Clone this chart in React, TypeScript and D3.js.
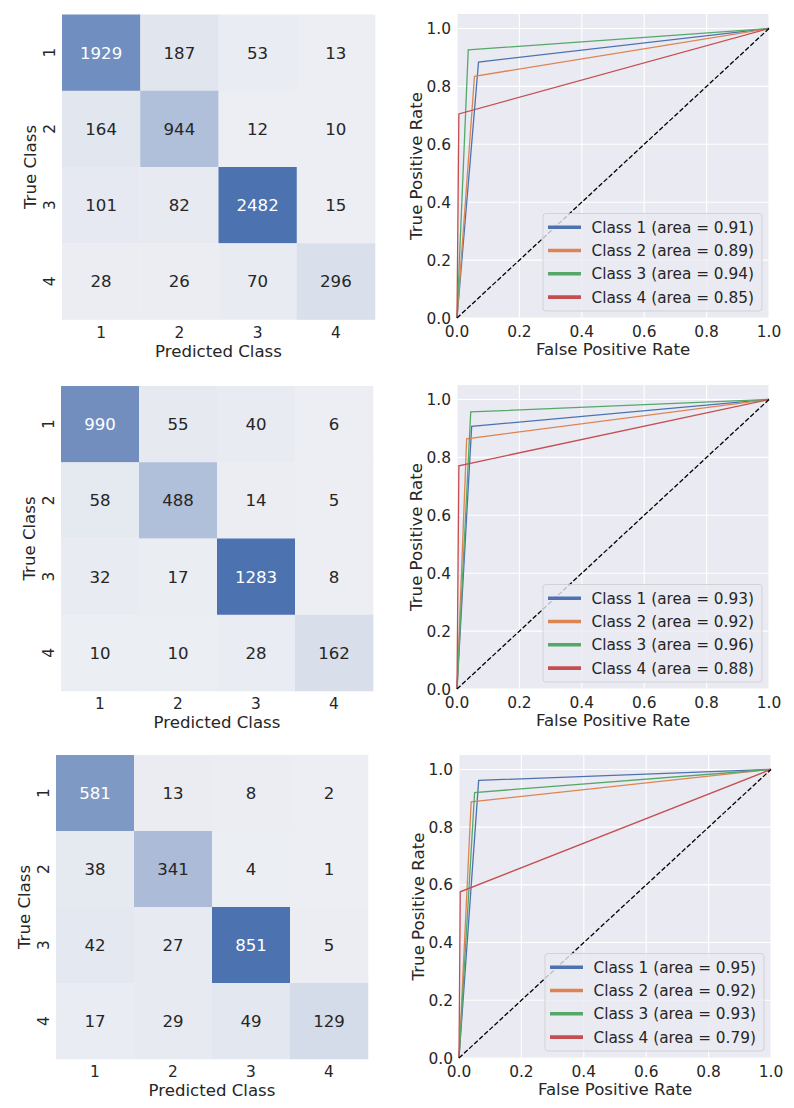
import React from "react";
import * as d3 from "d3";

// ---------- data ----------
const classLabels = ["1", "2", "3", "4"];

const cm1 = [
  [1929, 187, 53, 13],
  [164, 944, 12, 10],
  [101, 82, 2482, 15],
  [28, 26, 70, 296],
];
const cm2 = [
  [990, 55, 40, 6],
  [58, 488, 14, 5],
  [32, 17, 1283, 8],
  [10, 10, 28, 162],
];
const cm3 = [
  [581, 13, 8, 2],
  [38, 341, 4, 1],
  [42, 27, 851, 5],
  [17, 29, 49, 129],
];

// ROC operating points (single threshold per class) + AUC
const roc1Fpr = [0.069, 0.056, 0.036, 0.006];
const roc1Tpr = [0.884, 0.835, 0.926, 0.705];
const roc1Auc = [0.91, 0.89, 0.94, 0.85];

const roc2Fpr = [0.047, 0.031, 0.044, 0.006];
const roc2Tpr = [0.907, 0.864, 0.957, 0.771];
const roc2Auc = [0.93, 0.92, 0.96, 0.88];

const roc3Fpr = [0.063, 0.039, 0.05, 0.004];
const roc3Tpr = [0.962, 0.888, 0.92, 0.576];
const roc3Auc = [0.95, 0.92, 0.93, 0.79];

const rocTicks = [0, 0.2, 0.4, 0.6, 0.8, 1.0];

// ---------- styles / layout ----------
const FONT = "'DejaVu Sans', sans-serif";
const TXT = "#262626";
const seriesColors = ["#4c72b0", "#dd8452", "#55a868", "#c44e52"];
const LIGHT = "#eceef3";
const DARK = "#4c72b0";

const heatPanels = [
  { data: cm1, x0: 62, x1: 375, y0: 14.5, y1: 319.5 },
  { data: cm2, x0: 61, x1: 373, y0: 386, y1: 691 },
  { data: cm3, x0: 56, x1: 368, y0: 755, y1: 1059 },
];

const rocPanels = [
  { fpr: roc1Fpr, tpr: roc1Tpr, auc: roc1Auc, x0: 457, x1: 769, y0: 14, y1: 318 },
  { fpr: roc2Fpr, tpr: roc2Tpr, auc: roc2Auc, x0: 457, x1: 769, y0: 385, y1: 689 },
  { fpr: roc3Fpr, tpr: roc3Tpr, auc: roc3Auc, x0: 459, x1: 771, y0: 755, y1: 1058 },
];

function luminance(c: string) {
  const rgb = d3.rgb(c);
  const f = (v: number) => {
    const s = v / 255;
    return s <= 0.03928 ? s / 12.92 : Math.pow((s + 0.055) / 1.055, 2.4);
  };
  return 0.2126 * f(rgb.r) + 0.7152 * f(rgb.g) + 0.0722 * f(rgb.b);
}

function Heatmap({ p }: { p: (typeof heatPanels)[number] }) {
  const flat = p.data.flat();
  const color = d3
    .scaleLinear<string>()
    .domain([d3.min(flat)!, d3.max(flat)!])
    .range([LIGHT, DARK])
    .interpolate(d3.interpolateRgb);
  const xb = d3.scaleBand<string>().domain(classLabels).range([p.x0, p.x1]);
  const yb = d3.scaleBand<string>().domain(classLabels).range([p.y0, p.y1]);
  const cx = (p.x0 + p.x1) / 2;
  const cy = (p.y0 + p.y1) / 2;
  return (
    <g>
      {p.data.map((row, i) =>
        row.map((v, j) => {
          const fill = color(v);
          const tc = luminance(fill) > 0.408 ? TXT : "#ffffff";
          const x = xb(classLabels[j])!;
          const y = yb(classLabels[i])!;
          return (
            <g key={`${i}-${j}`}>
              <rect x={x} y={y} width={xb.bandwidth() + 0.3} height={yb.bandwidth() + 0.3} fill={fill} />
              <text
                x={x + xb.bandwidth() / 2}
                y={y + yb.bandwidth() / 2}
                dy="0.36em"
                textAnchor="middle"
                fontSize={16.6}
                fill={tc}
                fontFamily={FONT}
              >
                {v}
              </text>
            </g>
          );
        })
      )}
      {classLabels.map((c) => (
        <text
          key={"xt" + c}
          x={xb(c)! + xb.bandwidth() / 2}
          y={p.y1 + 18}
          textAnchor="middle"
          fontSize={15.4}
          fill={TXT}
          fontFamily={FONT}
        >
          {c}
        </text>
      ))}
      {classLabels.map((c) => {
        const yy = yb(c)! + yb.bandwidth() / 2;
        const xx = p.x0 - 7;
        return (
          <text
            key={"yt" + c}
            transform={`translate(${xx},${yy}) rotate(-90)`}
            textAnchor="middle"
            fontSize={15.4}
            fill={TXT}
            fontFamily={FONT}
          >
            {c}
          </text>
        );
      })}
      <text x={cx} y={p.y1 + 37} textAnchor="middle" fontSize={16.6} fill={TXT} fontFamily={FONT}>
        Predicted Class
      </text>
      <text
        transform={`translate(${p.x0 - 26.5},${cy}) rotate(-90)`}
        textAnchor="middle"
        fontSize={16.6}
        fill={TXT}
        fontFamily={FONT}
      >
        True Class
      </text>
    </g>
  );
}

function Roc({ p }: { p: (typeof rocPanels)[number] }) {
  const x = d3.scaleLinear().domain([0, 1]).range([p.x0, p.x1]);
  const y = d3.scaleLinear().domain([0, 1.05]).range([p.y1, p.y0]);
  const line = d3
    .line<[number, number]>()
    .x((d) => x(d[0]))
    .y((d) => y(d[1]));
  const cx = (p.x0 + p.x1) / 2;
  const cy = (p.y0 + p.y1) / 2;
  const legW = 219;
  const legH = 97.5;
  const legX = p.x1 - 7 - legW;
  const legY = p.y1 - 7 - legH;
  return (
    <g>
      <rect x={p.x0} y={p.y0} width={p.x1 - p.x0} height={p.y1 - p.y0} fill="#eaeaf2" />
      {rocTicks.map((t) => (
        <line key={"gx" + t} x1={x(t)} x2={x(t)} y1={p.y0} y2={p.y1} stroke="#ffffff" strokeWidth={1.1} />
      ))}
      {rocTicks.map((t) => (
        <line key={"gy" + t} x1={p.x0} x2={p.x1} y1={y(t)} y2={y(t)} stroke="#ffffff" strokeWidth={1.1} />
      ))}
      {p.fpr.map((f, i) => (
        <path
          key={"c" + i}
          d={line([
            [0, 0],
            [f, p.tpr[i]],
            [1, 1],
          ])!}
          fill="none"
          stroke={seriesColors[i]}
          strokeWidth={1.3}
        />
      ))}
      <path
        d={line([
          [0, 0],
          [1, 1],
        ])!}
        fill="none"
        stroke="#000000"
        strokeWidth={1.3}
        strokeDasharray="4.8,2.1"
      />
      {/* legend */}
      <rect
        x={legX}
        y={legY}
        width={legW}
        height={legH}
        rx={3}
        fill="#eaeaf2"
        fillOpacity={0.8}
        stroke="#cccccc"
        strokeOpacity={0.8}
        strokeWidth={1}
      />
      {p.auc.map((a, i) => {
        const ly = legY + 13.7 + i * 23.3;
        return (
          <g key={"l" + i}>
            <line x1={legX + 5} x2={legX + 38} y1={ly} y2={ly} stroke={seriesColors[i]} strokeWidth={3.6} />
            <text x={legX + 48.5} y={ly} dy="0.36em" fontSize={15.3} fill={TXT} fontFamily={FONT}>
              {`Class ${classLabels[i]} (area = ${a.toFixed(2)})`}
            </text>
          </g>
        );
      })}
      {/* tick labels */}
      {rocTicks.map((t) => (
        <text
          key={"xt" + t}
          x={x(t)}
          y={p.y1 + 19}
          textAnchor="middle"
          fontSize={15.4}
          fill={TXT}
          fontFamily={FONT}
        >
          {t.toFixed(1)}
        </text>
      ))}
      {rocTicks.map((t) => (
        <text
          key={"yt" + t}
          x={p.x0 - 6}
          y={y(t)}
          dy="0.36em"
          textAnchor="end"
          fontSize={15.4}
          fill={TXT}
          fontFamily={FONT}
        >
          {t.toFixed(1)}
        </text>
      ))}
      <text x={cx} y={p.y1 + 37} textAnchor="middle" fontSize={16.6} fill={TXT} fontFamily={FONT}>
        False Positive Rate
      </text>
      <text
        transform={`translate(${p.x0 - 35.5},${cy}) rotate(-90)`}
        textAnchor="middle"
        fontSize={16.6}
        fill={TXT}
        fontFamily={FONT}
      >
        True Positive Rate
      </text>
    </g>
  );
}

export default function App() {
  return (
    <svg
      width={794}
      height={1108}
      viewBox="0 0 794 1108"
      style={{ position: "absolute", left: 0, top: 0, background: "#ffffff" }}
    >
      <rect x={0} y={0} width={794} height={1108} fill="#ffffff" />
      {heatPanels.map((p, i) => (
        <Heatmap key={"h" + i} p={p} />
      ))}
      {rocPanels.map((p, i) => (
        <Roc key={"r" + i} p={p} />
      ))}
    </svg>
  );
}
